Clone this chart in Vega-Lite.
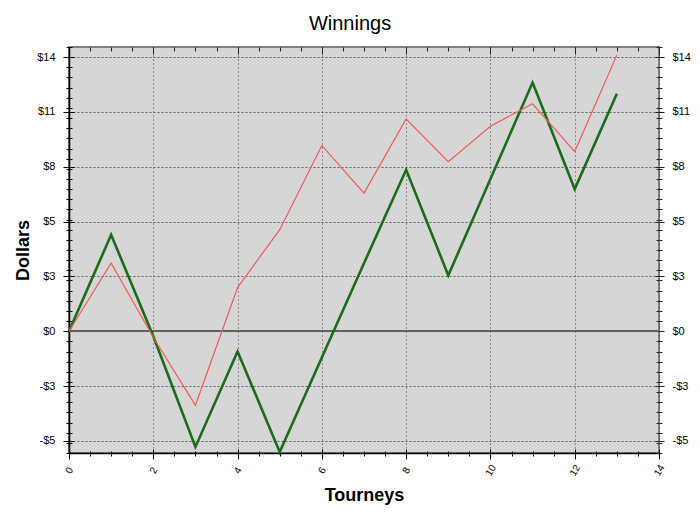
{
  "$schema": "https://vega.github.io/schema/vega-lite/v6.json",
  "autosize": "none",
  "width": 590,
  "height": 406,
  "padding": {"left": 69, "top": 47, "right": 41, "bottom": 67},
  "background": "white",
  "title": {"text": "Winnings", "fontSize": 20, "font": "Liberation Sans", "fontWeight": "normal", "color": "#000", "anchor": "middle", "offset": 13, "dx": -14},
  "config": {
    "view": {"fill": "#d6d6d6", "stroke": "#808080", "strokeWidth": 2},
    "axis": {"labelFont": "Liberation Sans", "titleFont": "Liberation Sans", "labelColor": "#000", "titleColor": "#000", "tickColor": "#111", "labelFlush": false, "labelOverlap": false, "labelBound": false}
  },
  "data": {"values": [
    {"tourney": 0, "series": "A", "dollars": 0},
    {"tourney": 1, "series": "A", "dollars": 4.75},
    {"tourney": 2, "series": "A", "dollars": -0.25},
    {"tourney": 3, "series": "A", "dollars": -5.7},
    {"tourney": 4, "series": "A", "dollars": -1.0},
    {"tourney": 5, "series": "A", "dollars": -5.95},
    {"tourney": 6, "series": "A", "dollars": -1.3},
    {"tourney": 7, "series": "A", "dollars": 3.35},
    {"tourney": 8, "series": "A", "dollars": 7.95},
    {"tourney": 9, "series": "A", "dollars": 2.75},
    {"tourney": 10, "series": "A", "dollars": 7.5},
    {"tourney": 11, "series": "A", "dollars": 12.25},
    {"tourney": 12, "series": "A", "dollars": 7.0},
    {"tourney": 13, "series": "A", "dollars": 11.7},
    {"tourney": 0, "series": "B", "dollars": 0},
    {"tourney": 1, "series": "B", "dollars": 3.35},
    {"tourney": 2, "series": "B", "dollars": -0.3},
    {"tourney": 3, "series": "B", "dollars": -3.65},
    {"tourney": 4, "series": "B", "dollars": 2.15},
    {"tourney": 5, "series": "B", "dollars": 5.0},
    {"tourney": 6, "series": "B", "dollars": 9.15},
    {"tourney": 7, "series": "B", "dollars": 6.8},
    {"tourney": 8, "series": "B", "dollars": 10.45},
    {"tourney": 9, "series": "B", "dollars": 8.35},
    {"tourney": 10, "series": "B", "dollars": 10.1},
    {"tourney": 11, "series": "B", "dollars": 11.2},
    {"tourney": 12, "series": "B", "dollars": 8.85},
    {"tourney": 13, "series": "B", "dollars": 13.6}
  ]},
  "resolve": {"axis": {"x": "independent", "y": "independent"}},
  "layer": [
    {
      "mark": {"type": "rule", "color": "#606060", "strokeWidth": 1.6},
      "encoding": {
        "y": {"datum": 0, "type": "quantitative", "scale": {"domain": [-6, 14], "nice": false, "zero": false}, "axis": null}
      }
    },
    {
      "transform": [{"filter": "datum.series === 'A'"}],
      "mark": {"type": "line", "color": "#1a6c1a", "strokeWidth": 2.6},
      "encoding": {
        "x": {"field": "tourney", "type": "quantitative", "scale": {"domain": [0, 14], "nice": false, "zero": false},
          "axis": {"orient": "bottom", "values": [0, 2, 4, 6, 8, 10, 12, 14], "grid": true, "gridColor": "#444", "gridDash": [1, 3], "gridWidth": 1, "ticks": false, "labels": false, "domain": true, "domainColor": "#000", "domainWidth": 1.5, "title": "Tourneys", "titleFontSize": 18, "titleFontWeight": "bold", "titlePadding": 33}},
        "y": {"field": "dollars", "type": "quantitative", "scale": {"domain": [-6, 14], "nice": false, "zero": false},
          "axis": {"orient": "left", "values": [-5.4, -2.7, 0, 2.7, 5.4, 8.1, 10.8, 13.5], "grid": true, "gridColor": "#4a4a4a", "gridDash": [2, 2], "gridWidth": 1, "gridOpacity": 0.85, "ticks": false, "labels": false, "domain": true, "domainColor": "#000", "domainWidth": 1.5, "title": "Dollars", "titleFontSize": 18, "titleFontWeight": "bold", "titlePadding": 37}}
      }
    },
    {
      "transform": [{"filter": "datum.series === 'B'"}],
      "mark": {"type": "line", "color": "#f25a5a", "strokeWidth": 1.2},
      "encoding": {
        "x": {"field": "tourney", "type": "quantitative", "scale": {"domain": [0, 14], "nice": false, "zero": false},
          "axis": {"orient": "bottom", "values": [0, 2, 4, 6, 8, 10, 12, 14], "offset": -4, "tickSize": 10, "tickColor": "#000", "labelAngle": -60, "labelAlign": "center", "labelBaseline": "middle", "labelFontSize": 10, "labelPadding": 11, "domain": false, "grid": false, "title": null}},
        "y": {"field": "dollars", "type": "quantitative", "scale": {"domain": [-6, 14], "nice": false, "zero": false},
          "axis": {"orient": "left", "values": [-5.4, -2.7, 0, 2.7, 5.4, 8.1, 10.8, 13.5], "offset": -5, "tickSize": 11, "tickColor": "#000", "labelExpr": "datum.value < 0 ? '-$' + format(-datum.value, '.0f') : '$' + format(datum.value, '.0f')", "labelFontSize": 11, "labelPadding": 8, "domain": false, "grid": false, "title": null}}
      }
    },
    {
      "mark": {"type": "point", "opacity": 0},
      "encoding": {
        "x": {"field": "tourney", "type": "quantitative", "scale": {"domain": [0, 14], "nice": false, "zero": false},
          "axis": {"orient": "bottom", "values": [0, 0.5, 1, 1.5, 2, 2.5, 3, 3.5, 4, 4.5, 5, 5.5, 6, 6.5, 7, 7.5, 8, 8.5, 9, 9.5, 10, 10.5, 11, 11.5, 12, 12.5, 13, 13.5, 14], "offset": -2, "tickSize": 5, "tickColor": "#000", "labels": false, "domain": false, "grid": false, "title": null}},
        "y": {"field": "dollars", "type": "quantitative", "scale": {"domain": [-6, 14], "nice": false, "zero": false},
          "axis": {"orient": "left", "values": [-6, -5.5, -5, -4.5, -4, -3.5, -3, -2.5, -2, -1.5, -1, -0.5, 0, 0.5, 1, 1.5, 2, 2.5, 3, 3.5, 4, 4.5, 5, 5.5, 6, 6.5, 7, 7.5, 8, 8.5, 9, 9.5, 10, 10.5, 11, 11.5, 12, 12.5, 13, 13.5, 14], "offset": -3, "tickSize": 6, "tickColor": "#000", "labels": false, "domain": false, "grid": false, "title": null}}
      }
    },
    {
      "mark": {"type": "point", "opacity": 0},
      "encoding": {
        "x": {"field": "tourney", "type": "quantitative", "scale": {"domain": [0, 14], "nice": false, "zero": false},
          "axis": {"orient": "top", "values": [0, 0.5, 1, 1.5, 2, 2.5, 3, 3.5, 4, 4.5, 5, 5.5, 6, 6.5, 7, 7.5, 8, 8.5, 9, 9.5, 10, 10.5, 11, 11.5, 12, 12.5, 13, 13.5, 14], "offset": -4, "tickSize": 4, "tickColor": "#222", "labels": false, "domain": false, "grid": false, "title": null}},
        "y": {"field": "dollars", "type": "quantitative", "scale": {"domain": [-6, 14], "nice": false, "zero": false},
          "axis": {"orient": "right", "values": [-5.4, -2.7, 0, 2.7, 5.4, 8.1, 10.8, 13.5], "offset": -4, "tickSize": 9, "tickColor": "#222", "labelExpr": "datum.value < 0 ? '-$' + format(-datum.value, '.0f') : '$' + format(datum.value, '.0f')", "labelFontSize": 11, "labelPadding": 8, "domain": false, "grid": false, "title": null}}
      }
    },
    {
      "mark": {"type": "point", "opacity": 0},
      "encoding": {
        "x": {"field": "tourney", "type": "quantitative", "scale": {"domain": [0, 14], "nice": false, "zero": false},
          "axis": {"orient": "top", "values": [0, 2, 4, 6, 8, 10, 12, 14], "offset": -7, "tickSize": 7, "tickColor": "#222", "labels": false, "domain": false, "grid": false, "title": null}},
        "y": {"field": "dollars", "type": "quantitative", "scale": {"domain": [-6, 14], "nice": false, "zero": false},
          "axis": {"orient": "right", "values": [-6, -5.5, -5, -4.5, -4, -3.5, -3, -2.5, -2, -1.5, -1, -0.5, 0, 0.5, 1, 1.5, 2, 2.5, 3, 3.5, 4, 4.5, 5, 5.5, 6, 6.5, 7, 7.5, 8, 8.5, 9, 9.5, 10, 10.5, 11, 11.5, 12, 12.5, 13, 13.5, 14], "offset": -3, "tickSize": 6, "tickColor": "#222", "labels": false, "domain": false, "grid": false, "title": null}}
      }
    }
  ]
}
